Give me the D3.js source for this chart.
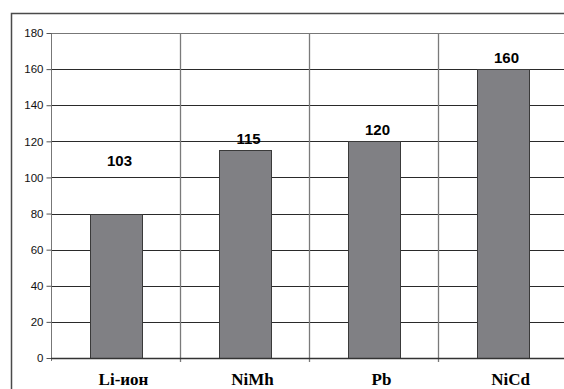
<!DOCTYPE html>
<html>
<head>
<meta charset="utf-8">
<script src="https://cdn.jsdelivr.net/npm/d3@7"></script>
<style>
  html, body { margin: 0; padding: 0; background: #fff; }
  svg { display: block; }
</style>
</head>
<body>
<svg id="chart" width="564" height="389"></svg>
<script>
const categories = ["Li-ион", "NiMh", "Pb", "NiCd"];
const values = [80, 115, 120, 160];
const valueLabels = ["103", "115", "120", "160"];
const yTicks = [0, 20, 40, 60, 80, 100, 120, 140, 160, 180];

const svg = d3.select("#chart");
const W = 564, H = 389;
const plot = { left: 51, right: 567, top: 33, bottom: 358 };

// outer frame (right/bottom edges run past the picture)
svg.append("rect")
  .attr("x", 11.5).attr("y", 13.5)
  .attr("width", W + 10).attr("height", H + 10)
  .attr("fill", "#fff").attr("stroke", "#4a4a4a").attr("stroke-width", 1.5);

const x = d3.scaleBand().domain(categories).range([plot.left, plot.right]).padding(0);
const y = d3.scaleLinear().domain([0, 180]).range([plot.bottom, plot.top]);

// horizontal gridlines
svg.append("g").selectAll("line").data(yTicks.filter(t => t > 0)).join("line")
  .attr("x1", plot.left).attr("x2", plot.right + 5)
  .attr("y1", d => Math.round(y(d)) + 0.5).attr("y2", d => Math.round(y(d)) + 0.5)
  .attr("stroke", d => d === 180 ? "#777" : "#2a2a2a").attr("stroke-width", 1);

// vertical gridlines at category boundaries
svg.append("g").selectAll("line").data(categories.slice(1)).join("line")
  .attr("x1", d => Math.round(x(d)) + 0.5).attr("x2", d => Math.round(x(d)) + 0.5)
  .attr("y1", plot.top).attr("y2", plot.bottom + 4)
  .attr("stroke", "#7a7a7a").attr("stroke-width", 1.3);

// y axis
const yAxis = d3.axisLeft(y).tickValues(yTicks).tickSize(5).tickPadding(3);
const gy = svg.append("g").attr("transform", `translate(${plot.left + 0.5},0)`).call(yAxis);
gy.select(".domain").attr("stroke", "#777").attr("d", `M-0,${plot.top}V${plot.bottom + 3}`);
gy.selectAll(".tick line").attr("stroke", "#555");
gy.selectAll(".tick text")
  .attr("font-family", "Liberation Sans, Arial, sans-serif")
  .attr("font-size", 11.5).attr("fill", "#111");

// bars
const barW = x.bandwidth() * 0.4;
svg.append("g").selectAll("rect").data(categories).join("rect")
  .attr("x", (d) => Math.round(x(d) + (x.bandwidth() - barW) / 2) + 0.5)
  .attr("y", (d, i) => Math.round(y(values[i])) + 0.5)
  .attr("width", Math.round(barW))
  .attr("height", (d, i) => Math.round(plot.bottom - y(values[i])))
  .attr("fill", "#808084").attr("stroke", "#3a3a3a").attr("stroke-width", 1);

// x axis line
svg.append("line")
  .attr("x1", plot.left).attr("x2", plot.right)
  .attr("y1", plot.bottom + 0.5).attr("y2", plot.bottom + 0.5)
  .attr("stroke", "#333").attr("stroke-width", 1.5);

// value labels (placed at the height of the value they state)
svg.append("g").selectAll("text").data(categories).join("text")
  .attr("x", d => x(d) + x.bandwidth() / 2 + 4)
  .attr("y", (d, i) => y(+valueLabels[i]) - 6)
  .attr("text-anchor", "middle")
  .attr("font-family", "Liberation Sans, Arial, sans-serif")
  .attr("font-weight", "bold").attr("font-size", 15).attr("fill", "#000")
  .text((d, i) => valueLabels[i]);

// category labels
svg.append("g").selectAll("text").data(categories).join("text")
  .attr("x", d => x(d) + x.bandwidth() / 2 + 8)
  .attr("y", 385)
  .attr("text-anchor", "middle")
  .attr("font-family", "Liberation Serif, Times New Roman, serif")
  .attr("font-weight", "bold").attr("font-size", 17).attr("fill", "#000")
  .text(d => d);
</script>
</body>
</html>
